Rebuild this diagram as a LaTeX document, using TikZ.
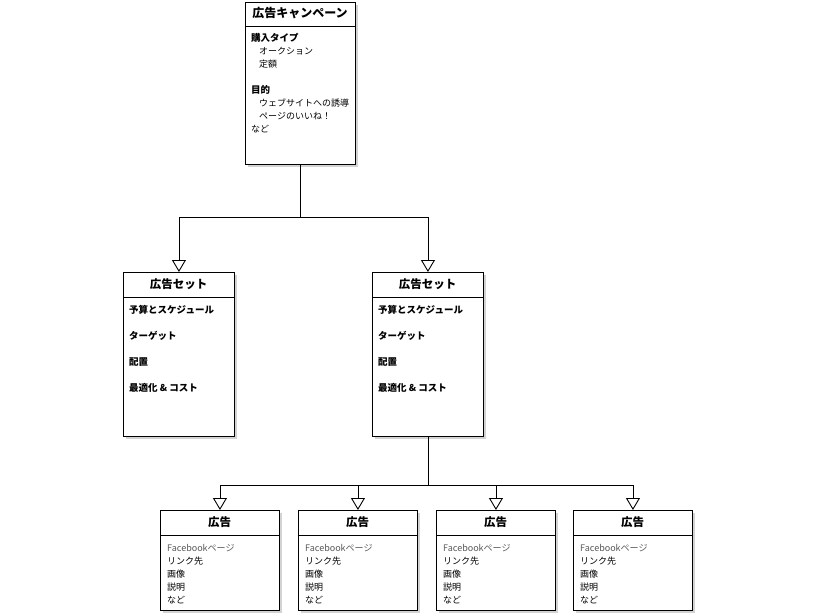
\documentclass[tikz,border=0pt]{standalone}
\usepackage{fontspec}
\setmainfont{Noto Sans CJK JP}
\usetikzlibrary{arrows.meta,shadows}

\tikzset{
  box/.style={draw, line width=0.9pt, fill=white, anchor=north west,
    drop shadow={shadow xshift=2.5pt, shadow yshift=-2.5pt, opacity=0.35}},
  title/.style={font=\bfseries\fontsize{11.5}{12}\selectfont, anchor=center},
  item/.style={font=\fontsize{9}{10}\selectfont, anchor=west, inner sep=0pt},
  bolditem/.style={item, font=\bfseries\fontsize{9.5}{10}\selectfont},
  link/.style={line width=0.9pt, -{Triangle[open, length=12pt, width=14pt, fill=white]}}
}

\begin{document}
\begin{tikzpicture}[x=1pt, y=-1pt]
  \useasboundingbox (0,0) rectangle (820,615);

  % Campaign
  \node[box, minimum width=110pt, minimum height=162pt] (camp) at (245,2) {};
  \node[title, font=\fontsize{12}{13}\selectfont\bfseries] (campT) at (300,13) {広告キャンペーン};
  \draw[line width=0.9pt] (245,26) -- (355,26);
  \node[bolditem] (c1) at (251,38) {購入タイプ};
  \node[item] (c2) at (259,51) {オークション};
  \node[item] (c3) at (259,64) {定額};
  \node[bolditem] (c4) at (251,90) {目的};
  \node[item] (c5) at (259,103) {ウェブサイトへの誘導};
  \node[item] (c6) at (259,116) {ページのいいね！};
  \node[item] (c7) at (251,129) {など};

  % Ad sets
  \foreach \name/\x in {setL/123, setR/372} {
    \node[box, minimum width=111pt, minimum height=164pt] (\name) at (\x,272) {};
    \node[title] (\name T) at (\x+55.5,284) {広告セット};
    \draw[line width=0.9pt] (\x,297) -- (\x+111,297);
    \node[bolditem] (\name 1) at (\x+6,310) {予算とスケジュール};
    \node[bolditem] (\name 2) at (\x+6,336) {ターゲット};
    \node[bolditem] (\name 3) at (\x+6,362) {配置};
    \node[bolditem] (\name 4) at (\x+6,388) {最適化 \& コスト};
  }

  % Ads
  \foreach \name/\x in {adA/160, adB/298, adC/436, adD/573} {
    \node[box, minimum width=119pt, minimum height=100pt] (\name) at (\x,510) {};
    \node[title] (\name T) at (\x+59.5,522) {広告};
    \draw[line width=0.9pt] (\x,535) -- (\x+119,535);
    \node[item, text=black!65] (\name 1) at (\x+7,548) {Facebookページ};
    \node[item] (\name 2) at (\x+7,561) {リンク先};
    \node[item] (\name 3) at (\x+7,574) {画像};
    \node[item] (\name 4) at (\x+7,587) {説明};
    \node[item] (\name 5) at (\x+7,600) {など};
  }

  % Connectors
  \coordinate (j1) at (camp.south |- 0,217);
  \draw[line width=0.9pt] (camp.south) -- (j1);
  \draw[link] (j1) -| (setL.north);
  \draw[link] (j1) -| (setR.north);

  \coordinate (j2) at (setR.south |- 0,485);
  \draw[line width=0.9pt] (setR.south) -- (j2);
  \foreach \name in {adA, adB, adC, adD}
    \draw[link] (j2) -| (\name.north);
\end{tikzpicture}
\end{document}
